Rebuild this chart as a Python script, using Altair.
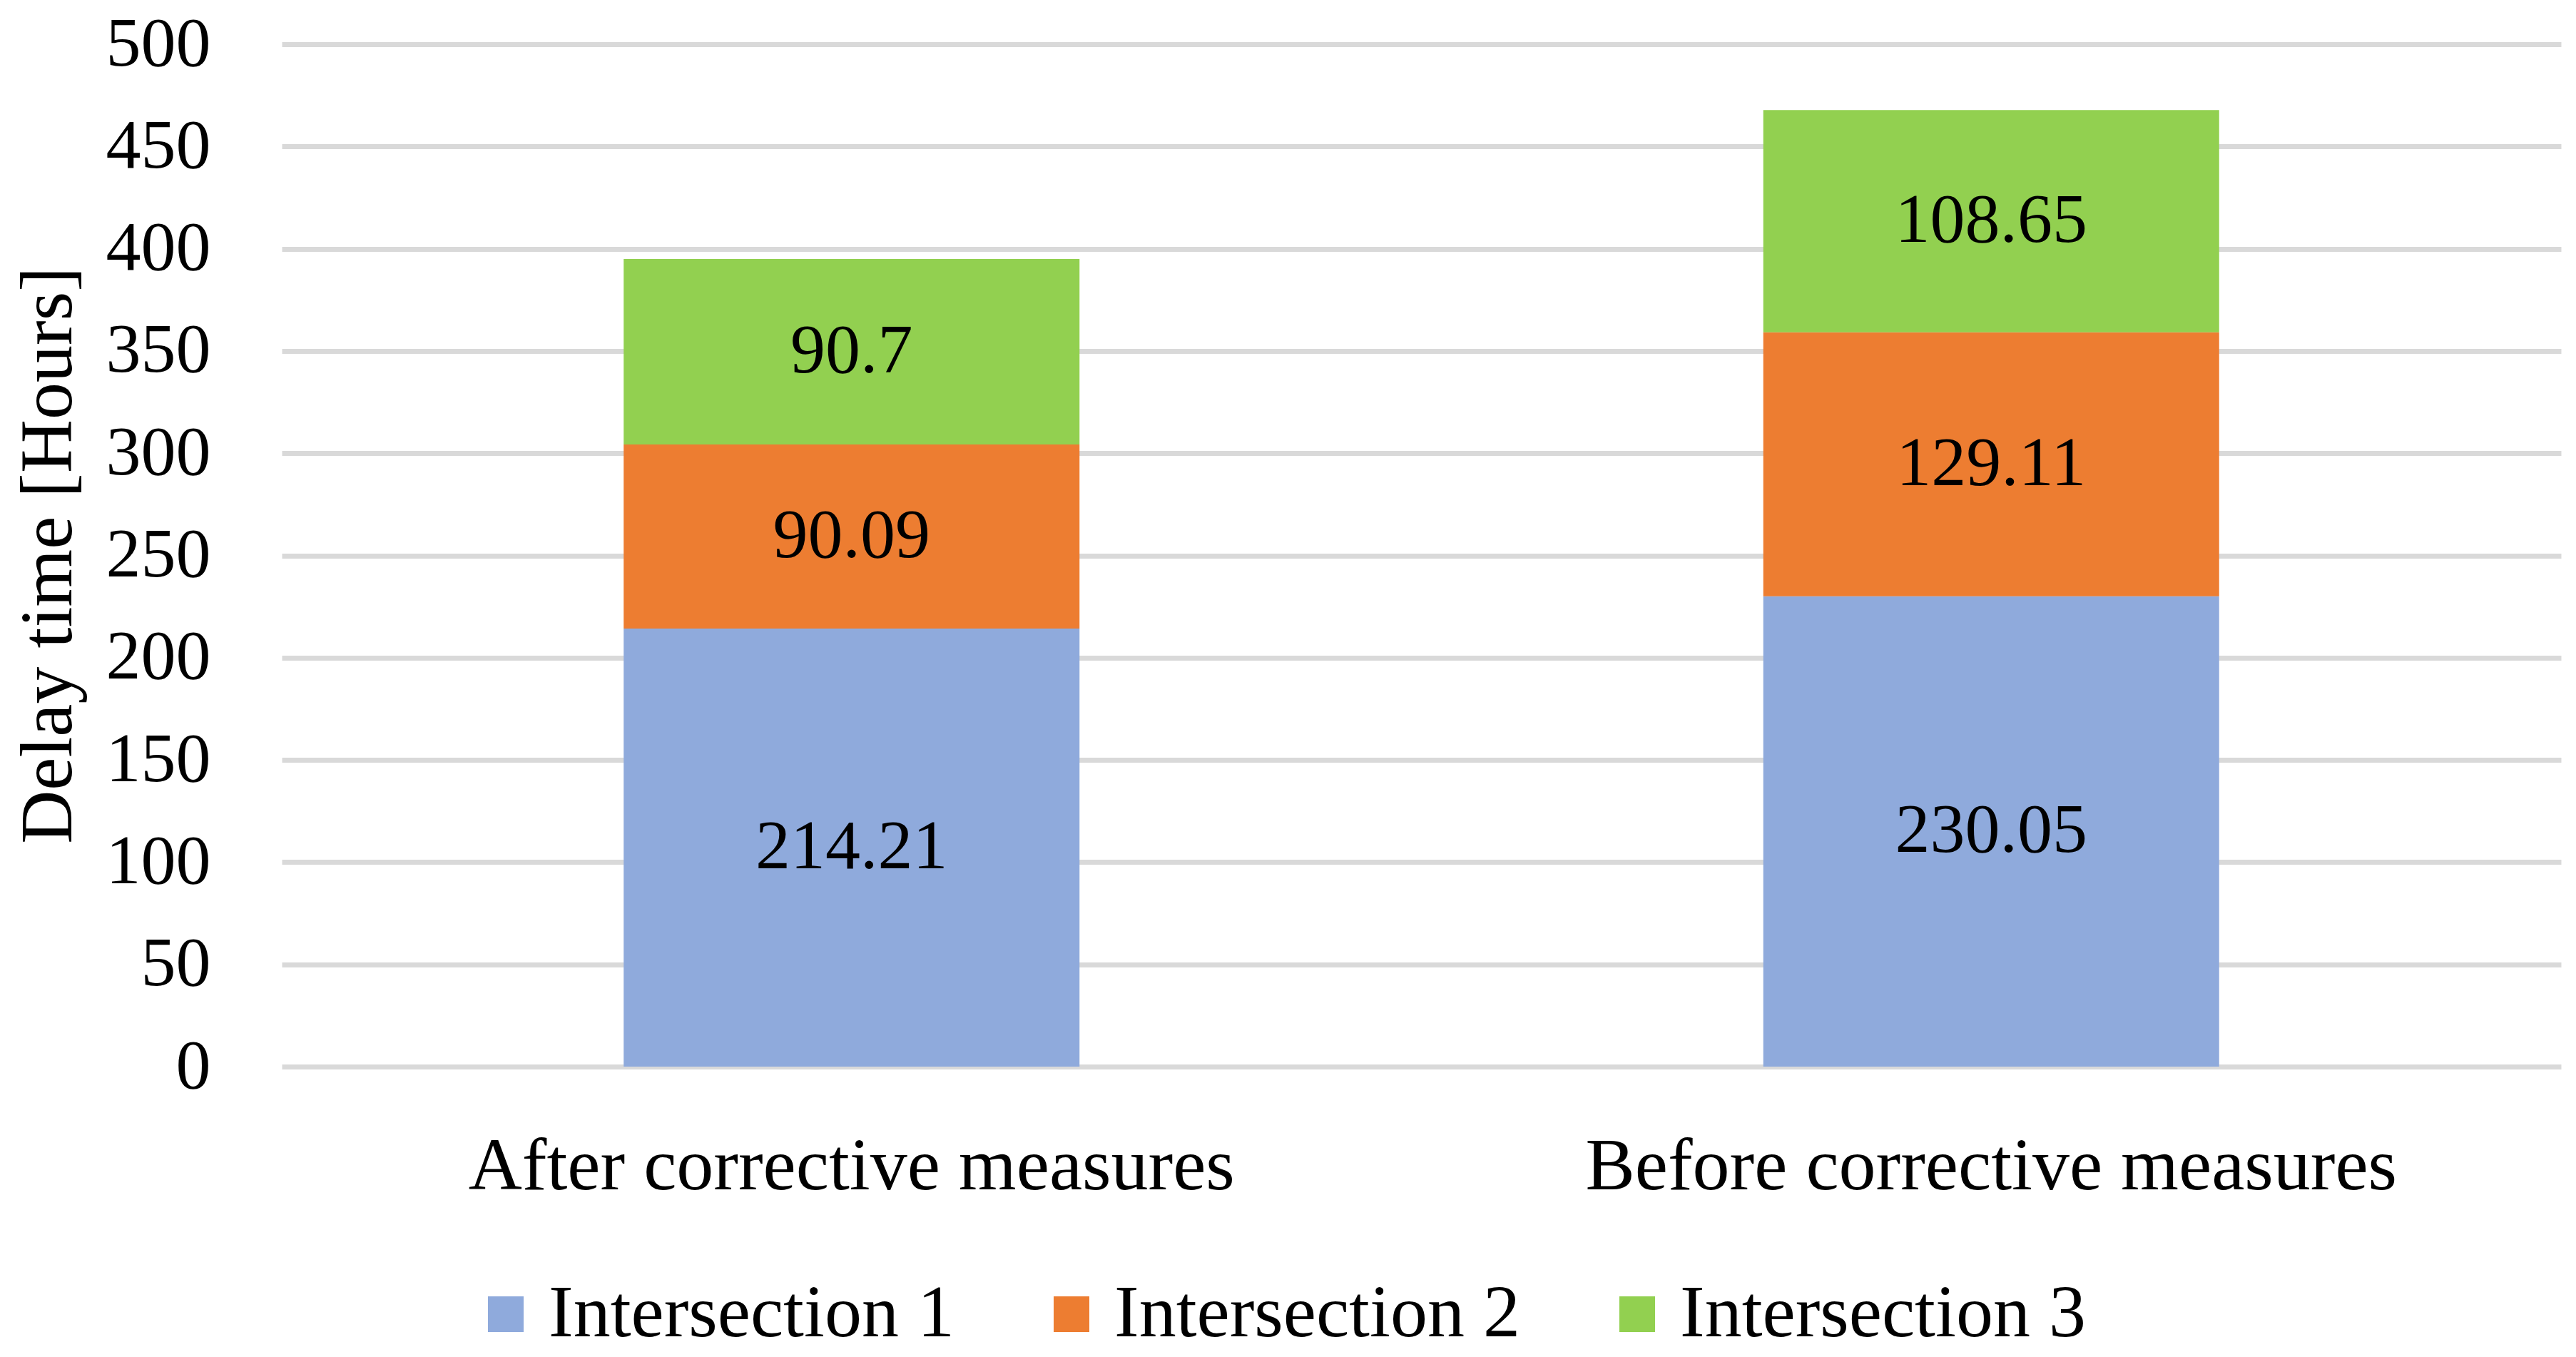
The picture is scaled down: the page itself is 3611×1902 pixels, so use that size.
import altair as alt
import pandas as pd

categories = ["After corrective measures", "Before corrective measures"]
series = ["Intersection 1", "Intersection 2", "Intersection 3"]
values_after = [214.21, 90.09, 90.7]
values_before = [230.05, 129.11, 108.65]
colors = ["#8FAADC", "#ED7D31", "#92D050"]

rows = []
for cat, vals in zip(categories, [values_after, values_before]):
    for i, (s, v) in enumerate(zip(series, vals)):
        rows.append({"cat": cat, "series": s, "value": v, "order": i})
df = pd.DataFrame(rows)

FONT = "Liberation Serif"
FS = 98

base = alt.Chart(df).transform_stack(
    stack="value", groupby=["cat"], as_=["v0", "v1"],
    sort=[alt.SortField("order", order="ascending")]
).transform_calculate(mid="(datum.v0 + datum.v1) / 2")

xenc = alt.X("cat:N", sort=categories, title=None,
             scale=alt.Scale(paddingInner=0.6, paddingOuter=0.3),
             axis=alt.Axis(labelAngle=0, labelFont=FONT, labelFontSize=104,
                           labelColor="#000000", ticks=False, domain=False,
                           labelLimit=0,
                           labelPadding=140, labelBaseline="middle", grid=False))

bars = base.mark_bar().encode(
    x=xenc,
    y=alt.Y("v0:Q", title="Delay time [Hours]",
            scale=alt.Scale(domain=[0, 500], nice=False),
            axis=alt.Axis(values=list(range(0, 501, 50)), labelFont=FONT,
                          labelFontSize=FS, labelColor="#000000", ticks=False,
                          domain=False, labelPadding=100, gridColor="#D9D9D9",
                          gridWidth=7, titleFont=FONT, titleFontSize=104,
                          titleFontWeight="normal", titleColor="#000000",
                          titleX=-327, titleY=716, titleAngle=-90,
                          titleAlign="center", titleBaseline="middle",
                          labelLimit=0)),
    y2="v1:Q",
    color=alt.Color("series:N", sort=series,
                    scale=alt.Scale(domain=series, range=colors),
                    legend=alt.Legend(title=None, orient="none", direction="horizontal",
                                      legendX=262, legendY=1728,
                                      symbolType="square", symbolSize=2500,
                                      symbolStrokeWidth=0, labelLimit=0,
                                      labelFont=FONT, labelFontSize=104,
                                      labelColor="#000000", labelOffset=8,
                                      columnPadding=112, symbolOpacity=1)),
)

labels = base.mark_text(font=FONT, fontSize=FS, color="#000000",
                        baseline="middle", align="center").encode(
    x=alt.X("cat:N", sort=categories),
    y=alt.Y("mid:Q"),
    text=alt.Text("value:Q"),
)

chart = alt.layer(bars, labels).properties(
    width=3195, height=1433,
    autosize=alt.AutoSizeParams(type="none"),
    padding={"left": 387, "top": 54, "right": 13, "bottom": 405},
).configure_view(stroke=None).configure_axis(gridOpacity=1)

chart.save("out.html", embed_options={"renderer": "svg", "actions": False})
